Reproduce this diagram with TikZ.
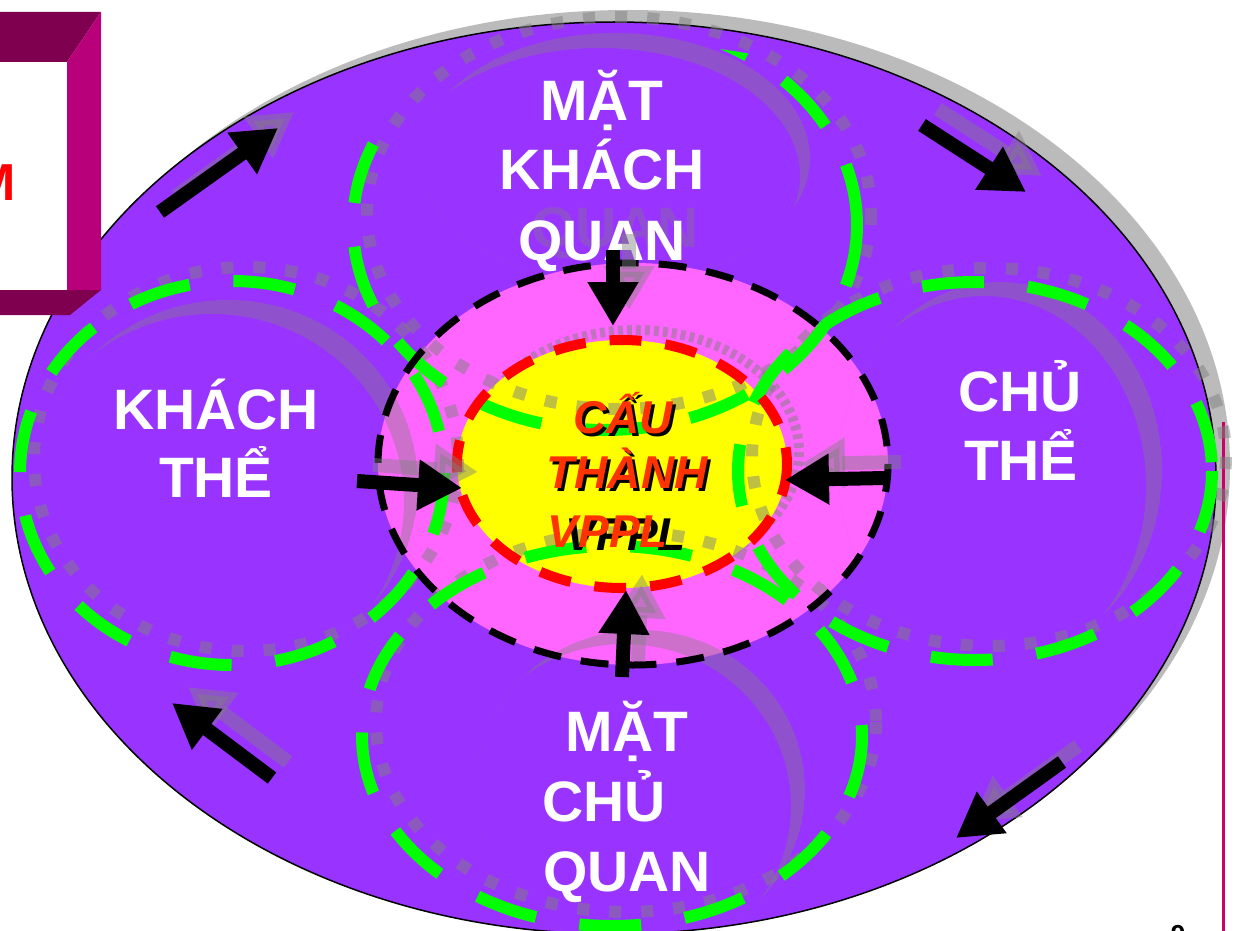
\documentclass[tikz,border=0pt]{standalone}
\usepackage{fontspec}
\setmainfont{Liberation Sans}
\usetikzlibrary{arrows.meta,calc}
\definecolor{purp}{HTML}{9933FF}
\definecolor{pinkf}{HTML}{FF66FF}
\definecolor{yel}{HTML}{FFFF00}
\definecolor{grn}{HTML}{00FF00}
\definecolor{redo}{HTML}{FF3300}
\definecolor{boxdark}{HTML}{800050}
\definecolor{boxmid}{HTML}{B8007A}
\definecolor{magline}{HTML}{CC0066}
\definecolor{shad}{HTML}{BBBBBB}
\newcommand\mycrescent[8]{%
  \begin{scope}
    \clip (#1,#2) ellipse [x radius=#3, y radius=#4];
    \fill[crescfill, even odd rule] (#1,#2) ellipse [x radius=#3, y radius=#4]
      (#5,#6) ellipse [x radius=#7, y radius=#8];
  \end{scope}}
\tikzset{
  greendash/.style={draw=grn, line width=6pt, dash pattern=on 31pt off 22pt},
  graydot/.style={draw=gray, draw opacity=0.5, line width=6pt, dash pattern=on 6pt off 10pt},
  crescfill/.style={fill=gray, fill opacity=0.4},
  arr/.style={draw=black, line width=7pt, -{Triangle[length=22pt,width=24pt]}},
  arrshadow/.style={draw=gray, line width=7pt, -{Triangle[length=22pt,width=24pt,fill=gray]}, opacity=0.45},
  lab/.style={text=white, font=\fontsize{28.5}{34}\selectfont\bfseries, inner sep=0, anchor=base},
  ctr/.style={font=\fontsize{23}{28}\selectfont\bfseries\itshape, inner sep=0, anchor=base},
}
\begin{document}
\begin{tikzpicture}[x=0.5pt,y=-0.5pt]
\useasboundingbox (0,0) rectangle (1237,931);
% main ellipse with shadow
\fill[shad] (628,466) ellipse [x radius=602, y radius=456];
\draw[magline, line width=1.5pt] (1223,422) coordinate (vlA) -- (1223,931) coordinate (vlB);
\filldraw[fill=purp, draw=black, line width=0.75pt] (614,478) ellipse [x radius=602, y radius=456];
% pink ellipse
\fill[pinkf] (633,464) ellipse [x radius=255, y radius=201];
% serrated shadow ring behind yellow
\draw[gray, draw opacity=0.5, line width=5pt, dash pattern=on 2.5pt off 2pt] (636,452) ellipse [x radius=163, y radius=122];
% yellow ellipse
\fill[yel] (622,464) ellipse [x radius=165, y radius=124];
% crescents
\mycrescent{228}{485}{190}{185}{212}{502}{192}{188}
\mycrescent{615}{158}{195}{125}{600}{176}{200}{128}
\mycrescent{1000}{470}{162}{188}{984}{486}{162}{190}
\mycrescent{640}{790}{165}{160}{624}{806}{167}{162}
% gray dotted circles
\draw[graydot] (246,459) ellipse [x radius=212, y radius=192];
\draw[graydot] (619,213) ellipse [x radius=252, y radius=196];
\draw[graydot] (989,457) ellipse [x radius=237, y radius=189];
\draw[graydot] (626,722) ellipse [x radius=250, y radius=190];
% green dashed circles
\draw[greendash] (232,473) ellipse [x radius=212, y radius=192];
\begin{scope}
  \clip (0,931) -- (0,0) -- (365,0) -- (365,135) -- (560,100) -- (725,40) -- (725,0) -- (1237,0) -- (1237,931) -- cycle;
  \clip (614,482) ellipse [x radius=590, y radius=440];
  \draw[greendash] (605,225) ellipse [x radius=252, y radius=205];
\end{scope}
\draw[greendash] (975,471) ellipse [x radius=237, y radius=189];
\draw[greendash] (612,736) ellipse [x radius=250, y radius=190];
% borders of inner ellipses
\draw[black, line width=3.5pt, dash pattern=on 14pt off 10pt] (633,464) ellipse [x radius=255, y radius=201];
\draw[red, line width=5pt, dash pattern=on 16pt off 12pt] (622,464) ellipse [x radius=165, y radius=124];
% ghost text
\node[lab, text=gray, text opacity=0.35] (ghost) at (615,247) {QUAN};
% labels
\node[lab] (t1) at (602,120) {MẶT};
\node[lab] (t2) at (602,190) {KHÁCH};
\node[lab] (t3) at (602,260) {QUAN};
\node[lab] (l1) at (216,429) {KHÁCH};
\node[lab] (l2) at (216,497) {THỂ};
\node[lab] (r1) at (1020,411) {CHỦ};
\node[lab] (r2) at (1021,480) {THỂ};
\node[lab] (b1) at (627,751) {MẶT};
\node[lab] (b2) at (604,821) {CHỦ};
\node[lab] (b3) at (627,891) {QUAN};
% center text
\node[ctr, text=black] (c1s) at (626,436) {CẤU};
\node[ctr, text=black] (c2s) at (630,491) {THÀNH};
\node[ctr, text=black] (c3s) at (626,550) {VPPL};
\node[ctr, text=redo] (c1) at (623,433) {CẤU};
\node[ctr, text=redo] (c2) at (627,488) {THÀNH};
\node[ctr, text=redo] (c3) at (608,547) {VPPL};
% arrow coordinates
\coordinate (oTLa) at (160,212); \coordinate (oTLb) at (278,128);
\coordinate (oTRa) at (922,125); \coordinate (oTRb) at (1026,192);
\coordinate (oBRa) at (1062,762); \coordinate (oBRb) at (956,838);
\coordinate (oBLa) at (272,778); \coordinate (oBLb) at (172,703);
\coordinate (iTa) at (613,250); \coordinate (iTb) at (613,326);
\coordinate (iLa) at (357,481); \coordinate (iLb) at (462,488);
\coordinate (iRa) at (885,478); \coordinate (iRb) at (785,480);
\coordinate (iBa) at (622,677); \coordinate (iBb) at (626,590);
% arrow shadows
\foreach \a/\b in {oTLa/oTLb, oTRa/oTRb, oBRa/oBRb, oBLa/oBLb, iTa/iTb, iLa/iLb, iRa/iRb, iBa/iBb}
  \draw[arrshadow] ($(\a)+(16,-16)$) -- ($(\b)+(16,-16)$);
% arrows
\foreach \a/\b in {oTLa/oTLb, oTRa/oTRb, oBRa/oBRb, oBLa/oBLb, iTa/iTb, iLa/iLb, iRa/iRb, iBa/iBb}
  \draw[arr] (\a) -- (\b);
% top-left 3D box
\fill[white] (0,62) rectangle (67,290);
\fill[boxdark] (0,12) -- (101,12) -- (67,62) -- (0,62) -- cycle;
\fill[boxmid] (101,12) -- (101,290) -- (67,290) -- (67,62) -- cycle;
\fill[boxdark] (0,290) -- (101,290) -- (70,315) -- (0,315) -- cycle;
\node[text=red, font=\fontsize{26}{30}\selectfont\bfseries, inner sep=0, anchor=base east] (mm) at (16,200) {M};
% page number fragment
\node[font=\fontsize{13}{13}\selectfont\bfseries, inner sep=0, anchor=north] (pg) at (1178,925) {9};
\end{tikzpicture}
\end{document}
